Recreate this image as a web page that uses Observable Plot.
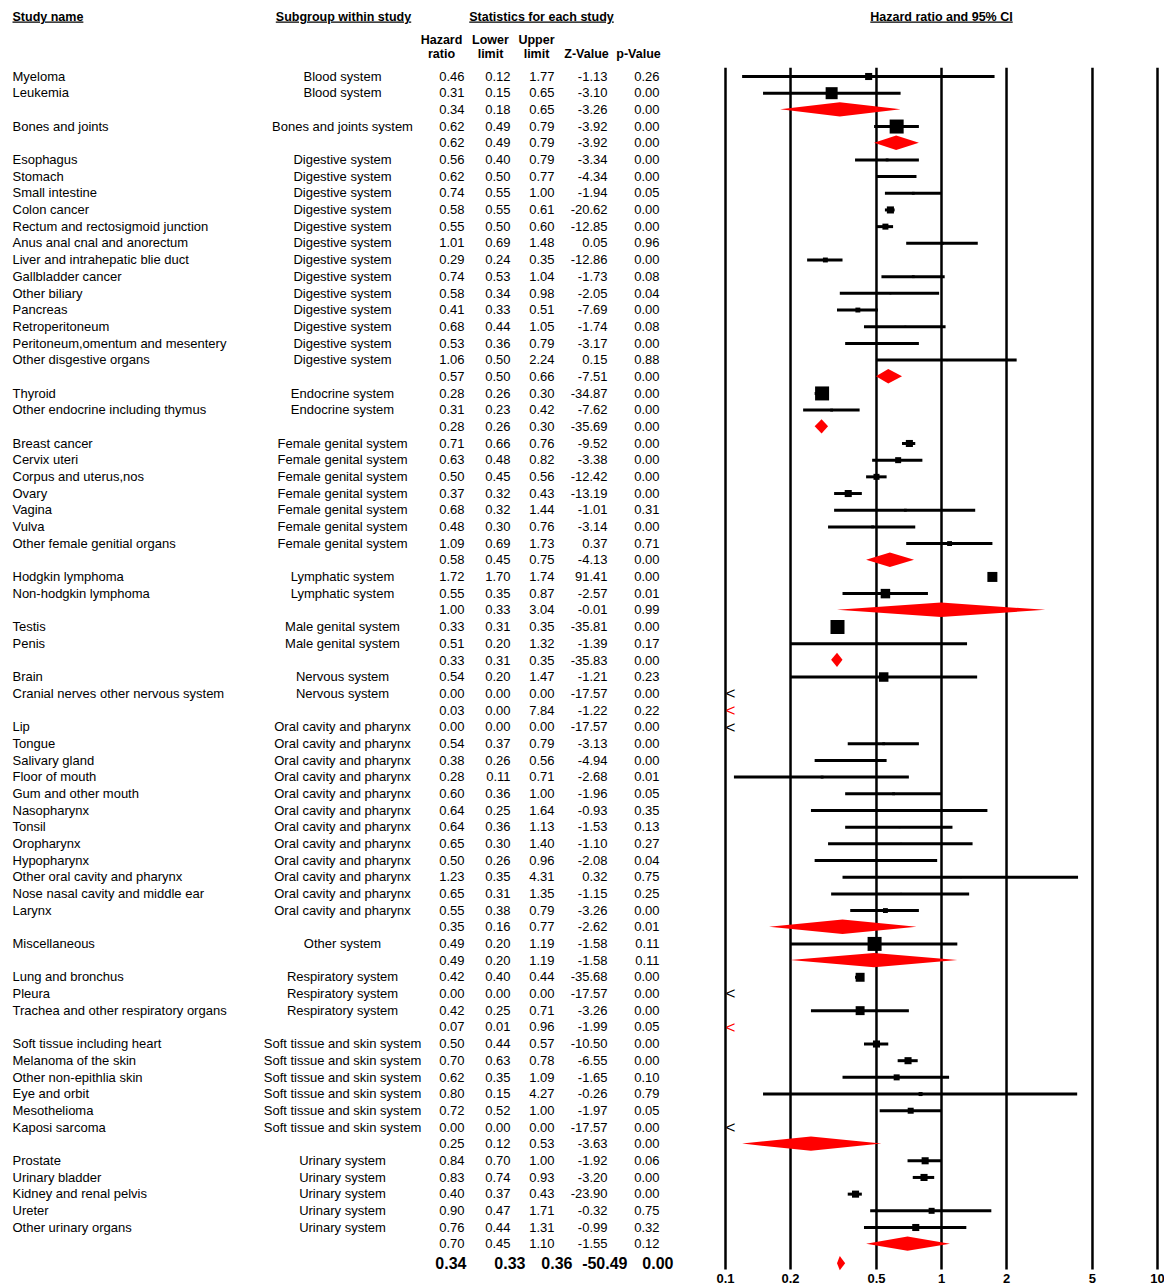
<!DOCTYPE html>
<html><head><meta charset="utf-8">
<script src="https://cdn.jsdelivr.net/npm/d3@7"></script>
<script src="https://cdn.jsdelivr.net/npm/@observablehq/plot@0.6"></script>
<style>
html,body{margin:0;padding:0;background:#fff;}
#chart{width:1164px;height:1288px;}
</style></head><body><div id="chart"></div>
<script>
// ---- data (subtotal rows have an empty study name) ----
const studyName = [
 "Myeloma","Leukemia","",
 "Bones and joints","",
 "Esophagus","Stomach","Small intestine","Colon cancer","Rectum and rectosigmoid junction","Anus anal cnal and anorectum","Liver and intrahepatic blie duct","Gallbladder cancer","Other biliary","Pancreas","Retroperitoneum","Peritoneum,omentum and mesentery","Other disgestive organs","",
 "Thyroid","Other endocrine including thymus","",
 "Breast cancer","Cervix uteri","Corpus and uterus,nos","Ovary","Vagina","Vulva","Other female genitial organs","",
 "Hodgkin lymphoma","Non-hodgkin lymphoma","",
 "Testis","Penis","",
 "Brain","Cranial nerves other nervous system","",
 "Lip","Tongue","Salivary gland","Floor of mouth","Gum and other mouth","Nasopharynx","Tonsil","Oropharynx","Hypopharynx","Other oral cavity and pharynx","Nose nasal cavity and middle ear","Larynx","",
 "Miscellaneous","",
 "Lung and bronchus","Pleura","Trachea and other respiratory organs","",
 "Soft tissue including heart","Melanoma of the skin","Other non-epithlia skin","Eye and orbit","Mesothelioma","Kaposi sarcoma","",
 "Prostate","Urinary bladder","Kidney and renal pelvis","Ureter","Other urinary organs",""
];
const subgroup = [
 "Blood system","Blood system","",
 "Bones and joints system","",
 "Digestive system","Digestive system","Digestive system","Digestive system","Digestive system","Digestive system","Digestive system","Digestive system","Digestive system","Digestive system","Digestive system","Digestive system","Digestive system","",
 "Endocrine system","Endocrine system","",
 "Female genital system","Female genital system","Female genital system","Female genital system","Female genital system","Female genital system","Female genital system","",
 "Lymphatic system","Lymphatic system","",
 "Male genital system","Male genital system","",
 "Nervous system","Nervous system","",
 "Oral cavity and pharynx","Oral cavity and pharynx","Oral cavity and pharynx","Oral cavity and pharynx","Oral cavity and pharynx","Oral cavity and pharynx","Oral cavity and pharynx","Oral cavity and pharynx","Oral cavity and pharynx","Oral cavity and pharynx","Oral cavity and pharynx","Oral cavity and pharynx","",
 "Other system","",
 "Respiratory system","Respiratory system","Respiratory system","",
 "Soft tissue and skin system","Soft tissue and skin system","Soft tissue and skin system","Soft tissue and skin system","Soft tissue and skin system","Soft tissue and skin system","",
 "Urinary system","Urinary system","Urinary system","Urinary system","Urinary system",""
];
const hazardRatio = [
 0.46,0.31,0.34,
 0.62,0.62,
 0.56,0.62,0.74,0.58,0.55,1.01,0.29,0.74,0.58,0.41,0.68,0.53,1.06,0.57,
 0.28,0.31,0.28,
 0.71,0.63,0.50,0.37,0.68,0.48,1.09,0.58,
 1.72,0.55,1.00,
 0.33,0.51,0.33,
 0.54,0.00,0.03,
 0.00,0.54,0.38,0.28,0.60,0.64,0.64,0.65,0.50,1.23,0.65,0.55,0.35,
 0.49,0.49,
 0.42,0.00,0.42,0.07,
 0.50,0.70,0.62,0.80,0.72,0.00,0.25,
 0.84,0.83,0.40,0.90,0.76,0.70
];
const lowerLimit = [
 0.12,0.15,0.18,
 0.49,0.49,
 0.40,0.50,0.55,0.55,0.50,0.69,0.24,0.53,0.34,0.33,0.44,0.36,0.50,0.50,
 0.26,0.23,0.26,
 0.66,0.48,0.45,0.32,0.32,0.30,0.69,0.45,
 1.70,0.35,0.33,
 0.31,0.20,0.31,
 0.20,0.00,0.00,
 0.00,0.37,0.26,0.11,0.36,0.25,0.36,0.30,0.26,0.35,0.31,0.38,0.16,
 0.20,0.20,
 0.40,0.00,0.25,0.01,
 0.44,0.63,0.35,0.15,0.52,0.00,0.12,
 0.70,0.74,0.37,0.47,0.44,0.45
];
const upperLimit = [
 1.77,0.65,0.65,
 0.79,0.79,
 0.79,0.77,1.00,0.61,0.60,1.48,0.35,1.04,0.98,0.51,1.05,0.79,2.24,0.66,
 0.30,0.42,0.30,
 0.76,0.82,0.56,0.43,1.44,0.76,1.73,0.75,
 1.74,0.87,3.04,
 0.35,1.32,0.35,
 1.47,0.00,7.84,
 0.00,0.79,0.56,0.71,1.00,1.64,1.13,1.40,0.96,4.31,1.35,0.79,0.77,
 1.19,1.19,
 0.44,0.00,0.71,0.96,
 0.57,0.78,1.09,4.27,1.00,0.00,0.53,
 1.00,0.93,0.43,1.71,1.31,1.10
];
const zValue = [
 -1.13,-3.10,-3.26,
 -3.92,-3.92,
 -3.34,-4.34,-1.94,-20.62,-12.85,0.05,-12.86,-1.73,-2.05,-7.69,-1.74,-3.17,0.15,-7.51,
 -34.87,-7.62,-35.69,
 -9.52,-3.38,-12.42,-13.19,-1.01,-3.14,0.37,-4.13,
 91.41,-2.57,-0.01,
 -35.81,-1.39,-35.83,
 -1.21,-17.57,-1.22,
 -17.57,-3.13,-4.94,-2.68,-1.96,-0.93,-1.53,-1.10,-2.08,0.32,-1.15,-3.26,-2.62,
 -1.58,-1.58,
 -35.68,-17.57,-3.26,-1.99,
 -10.50,-6.55,-1.65,-0.26,-1.97,-17.57,-3.63,
 -1.92,-3.20,-23.90,-0.32,-0.99,-1.55
];
const pValue = [
 0.26,0.00,0.00,
 0.00,0.00,
 0.00,0.00,0.05,0.00,0.00,0.96,0.00,0.08,0.04,0.00,0.08,0.00,0.88,0.00,
 0.00,0.00,0.00,
 0.00,0.00,0.00,0.00,0.31,0.00,0.71,0.00,
 0.00,0.01,0.99,
 0.00,0.17,0.00,
 0.23,0.00,0.22,
 0.00,0.00,0.00,0.01,0.05,0.35,0.13,0.27,0.04,0.75,0.25,0.00,0.01,
 0.11,0.11,
 0.00,0.00,0.00,0.05,
 0.00,0.00,0.10,0.79,0.05,0.00,0.00,
 0.06,0.00,0.00,0.75,0.32,0.12
];
// relative weight of each study (square area); null for subtotals
const studyWeight = [
 25,72,null,
 98,null,
 4,4,4,25,18,4,12,4,2,12,2,2,2,null,
 98,4,null,
 25,18,18,25,4,4,12,null,
 50,45,null,
 98,2,null,
 45,0,null,
 0,4,4,4,4,4,2,2,4,2,2,12,null,
 98,null,
 40,0,40,null,
 25,25,18,8,18,0,null,
 25,25,25,18,25,null
];
const overallStats = [0.34, 0.33, 0.36, -50.49, 0.00];

const headerTitles = ["Study name", "Subgroup within study", "Statistics for each study", "Hazard ratio and 95% CI"];
const statHeaderTop = ["Hazard", "Lower", "Upper", "", ""];
const statHeaderBottom = ["ratio", "limit", "limit", "Z-Value", "p-Value"];
const xTicks = [0.1, 0.2, 0.5, 1, 2, 5, 10];

// ---- build rows ----
const rows = studyName.map((name, i) => ({
  i, name, sub: subgroup[i], hr: hazardRatio[i], lo: lowerLimit[i], hi: upperLimit[i],
  z: zValue[i], p: pValue[i], w: studyWeight[i], total: name === ""
}));
const overallIndex = rows.length + 0.17;
const overall = {i: overallIndex, hr: overallStats[0], lo: overallStats[1], hi: overallStats[2], z: overallStats[3], p: overallStats[4]};

const f2 = d3.format(".2f");
const fmt = v => f2(v).replace("−", "-");

const studies = rows.filter(d => !d.total);
const totals = rows.filter(d => d.total);
const visibleStudies = studies.filter(d => d.hr >= 0.1);
const visibleTotals = totals.filter(d => d.hr >= 0.1).concat([overall]);
const half = 0.43;
const diamondPts = visibleTotals.flatMap(d => [
  {i: d.i, y: d.i - half, x1: d.hr, x2: d.hr},
  {i: d.i, y: d.i, x1: d.lo, x2: d.hi},
  {i: d.i, y: d.i + half, x1: d.hr, x2: d.hr}
]);

// table column layout (pixels from left)
const colRight = [464, 510, 554, 607, 659];
const colHeadCenter = [441, 490, 536, 586, 638];
const overallRight = [466, 525, 572, 627, 673];
const statKeys = ["hr", "lo", "hi", "z", "p"];

const FONT = "'Liberation Sans', Arial, Helvetica, sans-serif";
const marks = [];

// vertical reference lines
marks.push(Plot.ruleX(xTicks, {x: d => d, y1: () => -0.5, y2: () => overallIndex + 0.38, stroke: "black", strokeWidth: 2.5}));
// confidence intervals
marks.push(Plot.ruleY(visibleStudies, {y: "i", x1: "lo", x2: "hi", stroke: "black", strokeWidth: 3}));
// squares
marks.push(Plot.dot(visibleStudies.filter(d => d.w > 0), {x: "hr", y: "i", r: "w", symbol: "square", fill: "black", stroke: "none"}));
// diamonds
marks.push(Plot.areaX(diamondPts, {y: "y", x1: "x1", x2: "x2", z: "i", fill: "#ff0000", curve: "linear"}));
// off-scale arrows
marks.push(Plot.text(studies.filter(d => d.hr < 0.1), {x: () => 0.1, y: "i", text: () => "<", fill: "black", textAnchor: "start", dx: 0, fontSize: 17}));
marks.push(Plot.text(totals.filter(d => d.hr < 0.1), {x: () => 0.1, y: "i", text: () => "<", fill: "#ff0000", textAnchor: "start", dx: 0, fontSize: 17}));
// x tick labels
marks.push(Plot.text(xTicks, {x: d => d, frameAnchor: "bottom", lineAnchor: "middle", dy: -10, text: d => String(d), fontWeight: "bold", fontSize: 13, fill: "black"}));

// table: names and subgroups
marks.push(Plot.text(studies, {y: "i", text: "name", frameAnchor: "left", dx: 12, textAnchor: "start", fontSize: 13, fill: "black"}));
marks.push(Plot.text(studies, {y: "i", text: "sub", frameAnchor: "left", dx: 342, textAnchor: "middle", fontSize: 13, fill: "black"}));
// statistics columns
statKeys.forEach((k, c) => {
  marks.push(Plot.text(rows, {y: "i", text: d => fmt(d[k]), frameAnchor: "left", dx: colRight[c], textAnchor: "end", fontSize: 13, fill: "black"}));
  marks.push(Plot.text([overall], {y: "i", text: d => fmt(d[k]), frameAnchor: "left", dx: overallRight[c], textAnchor: "end", fontSize: 16, fontWeight: "bold", fill: "black"}));
  marks.push(Plot.text([statHeaderTop[c]], {frameAnchor: "top-left", lineAnchor: "middle", dx: colHeadCenter[c], dy: 39, textAnchor: "middle", fontSize: 12.5, fontWeight: "bold", fill: "black"}));
  marks.push(Plot.text([statHeaderBottom[c]], {frameAnchor: "top-left", lineAnchor: "middle", dx: colHeadCenter[c], dy: 53, textAnchor: "middle", fontSize: 12.5, fontWeight: "bold", fill: "black"}));
});
// top titles
const titleCenter = [null, 343, 541, 941];
marks.push(Plot.text([headerTitles[0]], {frameAnchor: "top-left", lineAnchor: "middle", dx: 12, dy: 16, textAnchor: "start", fontSize: 12.5, fontWeight: "bold", fill: "black"}));
[1, 2, 3].forEach(j => {
  marks.push(Plot.text([headerTitles[j]], {frameAnchor: "top-left", lineAnchor: "middle", dx: titleCenter[j], dy: 16, textAnchor: "middle", fontSize: 12.5, fontWeight: "bold", fill: "black"}));
});

const chart = Plot.plot({
  width: 1164,
  height: 1288,
  marginTop: 0, marginBottom: 0, marginLeft: 0, marginRight: 0,
  style: {fontFamily: FONT, fontSize: "13px", background: "white", color: "black"},
  x: {type: "log", domain: [0.1, 10], range: [725, 1157], axis: null},
  y: {type: "linear", domain: [0, 69], range: [76, 1227], axis: null},
  r: {type: "sqrt", domain: [0, 98], range: [0, 7.9]},
  marks
});

// underline the header titles
chart.querySelectorAll("text").forEach(t => {
  if (headerTitles.includes(t.textContent)) t.style.textDecoration = "underline";
});
document.getElementById("chart").appendChild(chart);
</script>
</body></html>
